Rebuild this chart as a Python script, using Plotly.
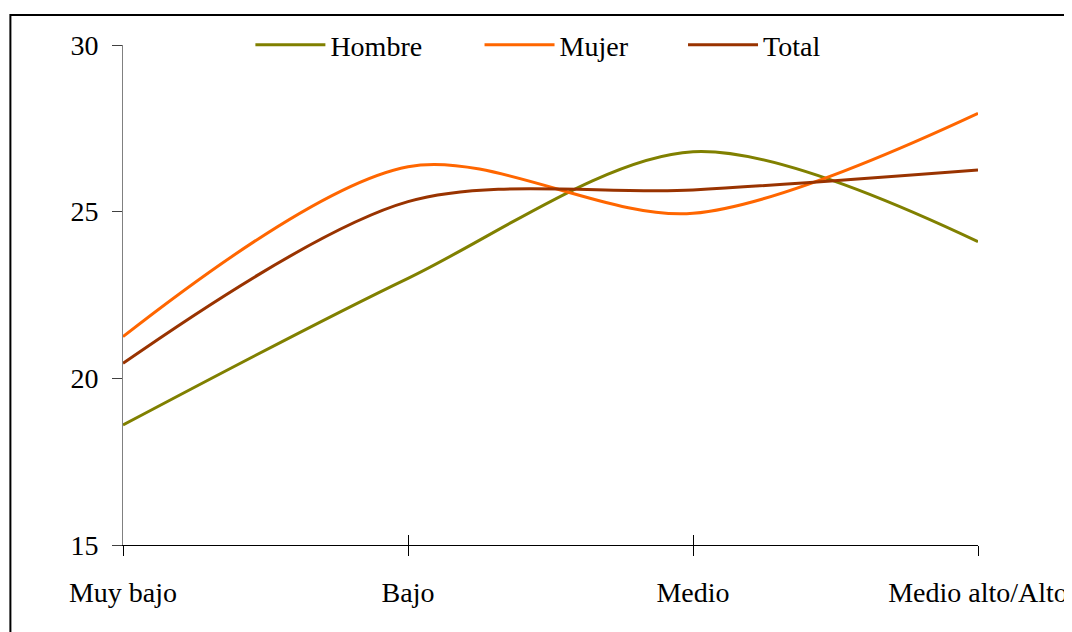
import plotly.graph_objects as go

# categories and series values
categorias = ["Muy bajo", "Bajo", "Medio", "Medio alto/Alto"]
hombre = [18.6, 23.0, 26.8, 24.1]
mujer = [21.25, 26.35, 24.95, 27.95]
total = [20.45, 25.3, 25.65, 26.25]
yticks = [15, 20, 25, 30]

pos = list(range(len(categorias)))
FONT = "Liberation Serif"

fig = go.Figure()
series = [("Hombre", hombre, "#808000", "legend"),
          ("Mujer", mujer, "#FF6600", "legend2"),
          ("Total", total, "#993300", "legend3")]
for name, vals, color, leg in series:
    fig.add_trace(go.Scatter(x=pos, y=vals, name=name, mode="lines", legend=leg,
                             line=dict(color=color, width=3, shape="spline", smoothing=0.9)))

# invisible trace so the overlaid axis (upper half of the crossing ticks) gets drawn
fig.add_trace(go.Scatter(x=pos, y=[None] * len(pos), xaxis="x2", showlegend=False,
                         hoverinfo="skip", mode="lines"))

leg_style = dict(orientation="h", xanchor="left", y=1.0, yanchor="middle",
                 font=dict(family=FONT, size=28), bgcolor="rgba(0,0,0,0)", itemwidth=70)

# page body has an 8px margin, so margins are pulled in by 8px
fig.update_layout(
    width=1072, height=632,
    margin=dict(l=115, r=93, t=34, b=95),
    paper_bgcolor="white", plot_bgcolor="white",
    font=dict(family=FONT, size=28, color="black"),
    showlegend=True,
    legend=dict(x=0.149, **leg_style),
    legend2=dict(x=0.417, **leg_style),
    legend3=dict(x=0.655, **leg_style),
    xaxis=dict(range=[0, 3], tickvals=pos, ticktext=categorias, showgrid=False,
               zeroline=False, showline=True, linecolor="black", linewidth=1,
               ticks="outside", ticklen=10, tickcolor="black", tickwidth=1,
               ticklabelstandoff=12),
    xaxis2=dict(range=[0, 3], overlaying="x", side="bottom", anchor="y",
                tickvals=pos, showticklabels=False, showgrid=False, zeroline=False,
                ticks="inside", ticklen=10, tickcolor="black", tickwidth=1, showline=False),
    yaxis=dict(range=[15, 30], tickvals=yticks, showgrid=False, zeroline=False,
               showline=True, linecolor="#808080", linewidth=1,
               ticks="outside", ticklen=10, tickcolor="#404040", tickwidth=1,
               ticklabelstandoff=8),
)

# outer chart frame
fig.add_shape(type="rect", xref="paper", yref="paper",
              x0=-0.1317, x1=1.112, y0=-0.3, y1=1.06,
              line=dict(color="black", width=2), fillcolor="rgba(0,0,0,0)", layer="below")

fig.write_html("out.html")
